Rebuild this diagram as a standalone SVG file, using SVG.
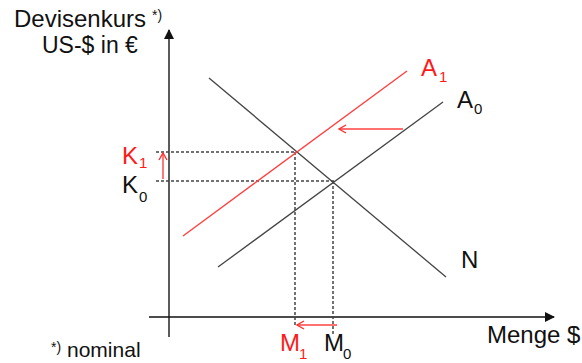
<svg xmlns="http://www.w3.org/2000/svg" width="582" height="363" viewBox="0 0 582 363">
<style>
text{font-family:"Liberation Sans",Arial,sans-serif;fill:#111}
.red{fill:#ff1a1a}
.lbl{font-size:24px}
.sub{font-size:15px}
.ln{stroke:#444;stroke-width:1.3;fill:none}
.rl{stroke:#ff4040;stroke-width:1.4;fill:none}
.ds{stroke:#444;stroke-width:1.5;stroke-dasharray:3 2;fill:none}
</style>
<defs>
<marker id="ah" markerWidth="10" markerHeight="10" refX="9" refY="5" orient="auto" markerUnits="userSpaceOnUse">
<path d="M0,0 L10,5 L0,10 Z" fill="#111"/>
</marker>
<marker id="ra" markerWidth="10" markerHeight="10" refX="9" refY="5" orient="auto" markerUnits="userSpaceOnUse">
<path d="M2,1 L9,5 L2,9" fill="none" stroke="#ff3030" stroke-width="1.4"/>
</marker>
</defs>
<g id="axes">
<line x1="169" y1="337" x2="169" y2="30" marker-end="url(#ah)" style="stroke:#333;stroke-width:1.6"/>
<line x1="149" y1="317" x2="554" y2="317" marker-end="url(#ah)" style="stroke:#111;stroke-width:1.6"/>
<text x="14" y="27" style="font-size:24px">Devisenkurs</text>
<text x="152" y="20" style="font-size:14px">*)</text>
<text x="42" y="53" style="font-size:23px">US-$ in €</text>
<text x="487" y="343" style="font-size:24px">Menge $</text>
<text x="51" y="352" style="font-size:14px">*)</text>
<text x="67" y="357" style="font-size:21px">nominal</text>
</g>
<g id="connectors">
<line class="ds" x1="156" y1="152" x2="296" y2="152"/>
<line class="ds" x1="156" y1="181" x2="334" y2="181"/>
<line class="ds" x1="295" y1="152" x2="295" y2="327"/>
<line class="ds" x1="333" y1="181" x2="333" y2="334"/>
<line class="rl" x1="403" y1="129" x2="339" y2="129" marker-end="url(#ra)"/>
<line class="rl" x1="163" y1="179" x2="163" y2="153" marker-end="url(#ra)"/>
<line class="rl" x1="337" y1="325" x2="297" y2="325" marker-end="url(#ra)"/>
</g>
<g id="N">
<line class="ln" x1="209" y1="78" x2="446" y2="277"/>
<text class="lbl" x="461" y="268">N</text>
</g>
<g id="A0">
<line class="ln" x1="218" y1="267" x2="443" y2="102"/>
<text class="lbl" x="457" y="108">A</text>
<text class="sub" x="474" y="114">0</text>
</g>
<g id="A1">
<line class="rl" x1="183" y1="236" x2="407" y2="71"/>
<text class="lbl red" x="421" y="76">A</text>
<text class="sub red" x="439" y="82">1</text>
</g>
<g id="K1">
<text class="lbl red" x="122" y="164">K</text>
<text class="sub red" x="139" y="168">1</text>
</g>
<g id="K0">
<text class="lbl" x="122" y="193">K</text>
<text class="sub" x="139" y="202">0</text>
</g>
<g id="M1">
<text class="lbl red" x="280" y="351">M</text>
<text class="sub red" x="299" y="359">1</text>
</g>
<g id="M0">
<text class="lbl" x="324" y="351">M</text>
<text class="sub" x="343" y="359">0</text>
</g>
</svg>
